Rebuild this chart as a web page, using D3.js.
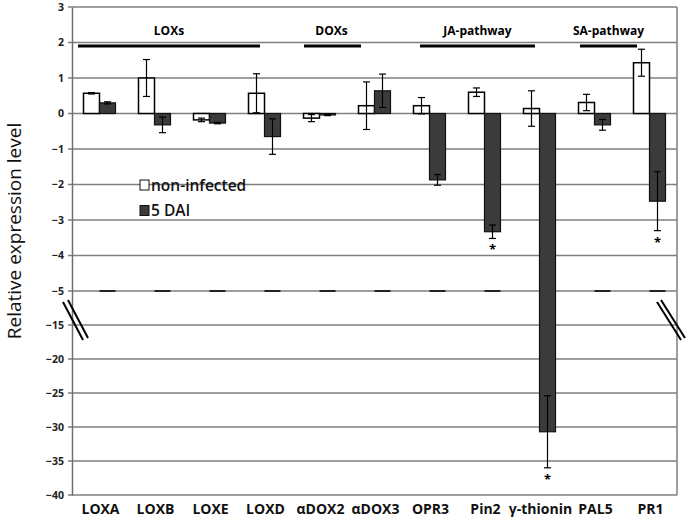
<!DOCTYPE html>
<html><head><meta charset="utf-8">
<script src="https://cdn.jsdelivr.net/npm/d3@7"></script>
<style>body{margin:0;background:#fff}svg{display:block}</style>
</head><body>
<svg id="c" width="689" height="521"></svg>
<script>
const categories = ["LOXA","LOXB","LOXE","LOXD","αDOX2","αDOX3","OPR3","Pin2","γ-thionin","PAL5","PR1"];
const nonInfected = [0.57, 1.00, -0.18, 0.57, -0.13, 0.22, 0.22, 0.60, 0.14, 0.31, 1.43];
const nonInfectedErr = [0.02, 0.52, 0.05, 0.55, 0.10, 0.67, 0.23, 0.12, 0.50, 0.23, 0.38];
const dai5 = [0.30, -0.32, -0.27, -0.65, -0.04, 0.64, -1.87, -3.33, -30.7, -0.32, -2.47];
const dai5Err = [0.03, 0.22, 0.02, 0.50, 0.02, 0.47, 0.15, 0.19, 5.3, 0.15, 0.83];
const significant = ["Pin2","γ-thionin","PR1"];
const tickValues = [3,2,1,0,-1,-2,-3,-4,-5,-15,-20,-25,-30,-35,-40];
const groups = [
  {name:"LOXs", from:"LOXA", to:"LOXD"},
  {name:"DOXs", from:"αDOX2", to:"αDOX3"},
  {name:"JA-pathway", from:"OPR3", to:"γ-thionin"},
  {name:"SA-pathway", from:"PAL5", to:"PR1"}
];
const seriesNames = ["non-infected","5 DAI"];

const svg = d3.select("#c");
const L=72, R=677, T=7, B=495;
const x = d3.scaleBand().domain(categories).range([L,R]);
const y = d3.scaleLinear().domain([3,-5,-15,-40]).range([T,291,325,B]);
const bw = 16;
const font = "'Open Sans', 'DejaVu Sans', sans-serif";

// gridlines
svg.append("g").selectAll("line").data(tickValues).join("line")
  .attr("x1",L-4).attr("x2",R).attr("y1",d=>y(d)).attr("y2",d=>y(d))
  .attr("stroke","#7f7f7f").attr("stroke-width",1.5);
// frame
svg.append("line").attr("x1",R).attr("x2",R).attr("y1",T).attr("y2",B).attr("stroke","#7f7f7f").attr("stroke-width",1.5);

// axis
const ax = svg.append("g").attr("transform",`translate(${L},0)`)
  .call(d3.axisLeft(y).tickValues(tickValues).tickSize(0).tickPadding(8).tickFormat(d3.format("d")));
ax.select(".domain").attr("stroke","#6f6f6f").attr("stroke-width",1.5);
ax.selectAll("text").attr("font-family",font).attr("font-weight","bold").attr("font-size",10.5).attr("fill","#222");

// y title
svg.append("text").attr("transform","translate(21,231) rotate(-90)").attr("text-anchor","middle")
  .attr("font-family",font).attr("font-size",19).attr("fill","#111").text("Relative expression level");

// dashes at -5 for dark bars
svg.append("g").selectAll("line").data(categories).join("line")
  .attr("x1",d=>x(d)+x.bandwidth()/2).attr("x2",d=>x(d)+x.bandwidth()/2+bw)
  .attr("y1",y(-5)).attr("y2",y(-5)).attr("stroke","#222").attr("stroke-width",2);

// bars
const bars = svg.append("g");
categories.forEach((c,i)=>{
  const cx = x(c)+x.bandwidth()/2;
  const a = nonInfected[i], b = dai5[i];
  bars.append("rect").attr("x",cx-bw).attr("width",bw)
    .attr("y",Math.min(y(a),y(0))).attr("height",Math.abs(y(a)-y(0)))
    .attr("fill","#fff").attr("stroke","#000").attr("stroke-width",1.5);
  bars.append("rect").attr("x",cx).attr("width",bw)
    .attr("y",Math.min(y(b),y(0))).attr("height",Math.abs(y(b)-y(0)))
    .attr("fill","#3b3b3b").attr("stroke","#111").attr("stroke-width",1.2);
});
// error bars
const eb = svg.append("g").attr("stroke","#000").attr("stroke-width",1.2);
function errBar(cx, v, e){
  const y1=y(v+e), y2=y(v-e);
  eb.append("line").attr("x1",cx).attr("x2",cx).attr("y1",y1).attr("y2",y2);
  eb.append("line").attr("x1",cx-3.5).attr("x2",cx+3.5).attr("y1",y1).attr("y2",y1);
  eb.append("line").attr("x1",cx-3.5).attr("x2",cx+3.5).attr("y1",y2).attr("y2",y2);
}
categories.forEach((c,i)=>{
  const cx = x(c)+x.bandwidth()/2;
  errBar(cx-bw/2, nonInfected[i], nonInfectedErr[i]);
  errBar(cx+bw/2, dai5[i], dai5Err[i]);
});
// stars
categories.forEach((c,i)=>{
  if(!significant.includes(c)) return;
  const cx = x(c)+x.bandwidth()/2+bw/2;
  svg.append("text").attr("x",cx).attr("y",y(dai5[i]-dai5Err[i])+16).attr("text-anchor","middle")
    .attr("font-family",font).attr("font-weight","bold").attr("font-size",13).text("*");
});

// category labels
svg.append("g").selectAll("text").data(categories).join("text")
  .attr("x",d=>x(d)+x.bandwidth()/2+1).attr("y",514).attr("text-anchor","middle")
  .attr("font-family",font).attr("font-weight","bold").attr("font-size",14).attr("fill","#111").text(d=>d);

// group labels and lines
const gx = {"LOXs":[78,260],"DOXs":[304,361],"JA-pathway":[420,535],"SA-pathway":[580,637]};
groups.forEach(g=>{
  const [a,b] = gx[g.name];
  svg.append("line").attr("x1",a).attr("x2",b).attr("y1",46).attr("y2",46).attr("stroke","#000").attr("stroke-width",3);
  svg.append("text").attr("x",(a+b)/2+(g.name==="DOXs"?-1:0)).attr("y",35).attr("text-anchor","middle")
    .attr("font-family",font).attr("font-weight","bold").attr("font-size",12).text(g.name);
});

// legend
const lg = svg.append("g");
seriesNames.forEach((s,i)=>{
  const ly = 185 + i*25.5;
  lg.append("rect").attr("x",140).attr("y",ly-5).attr("width",9).attr("height",10)
    .attr("fill",i?"#3b3b3b":"#fff").attr("stroke","#111").attr("stroke-width",1);
  lg.append("text").attr("x",151).attr("y",ly+5.5).attr("font-family",font).attr("font-weight","600")
    .attr("font-size",15.5).attr("fill","#111").text(s);
});

// break marks
const brk = svg.append("g").attr("stroke","#000").attr("stroke-width",2).attr("fill","none");
[[63,302,83,340],[68,300,88,338],[657,302,681,340],[661,300,685,338]].forEach(p=>{
  brk.append("line").attr("x1",p[0]).attr("y1",p[1]).attr("x2",p[2]).attr("y2",p[3]);
});
</script>
</body></html>
